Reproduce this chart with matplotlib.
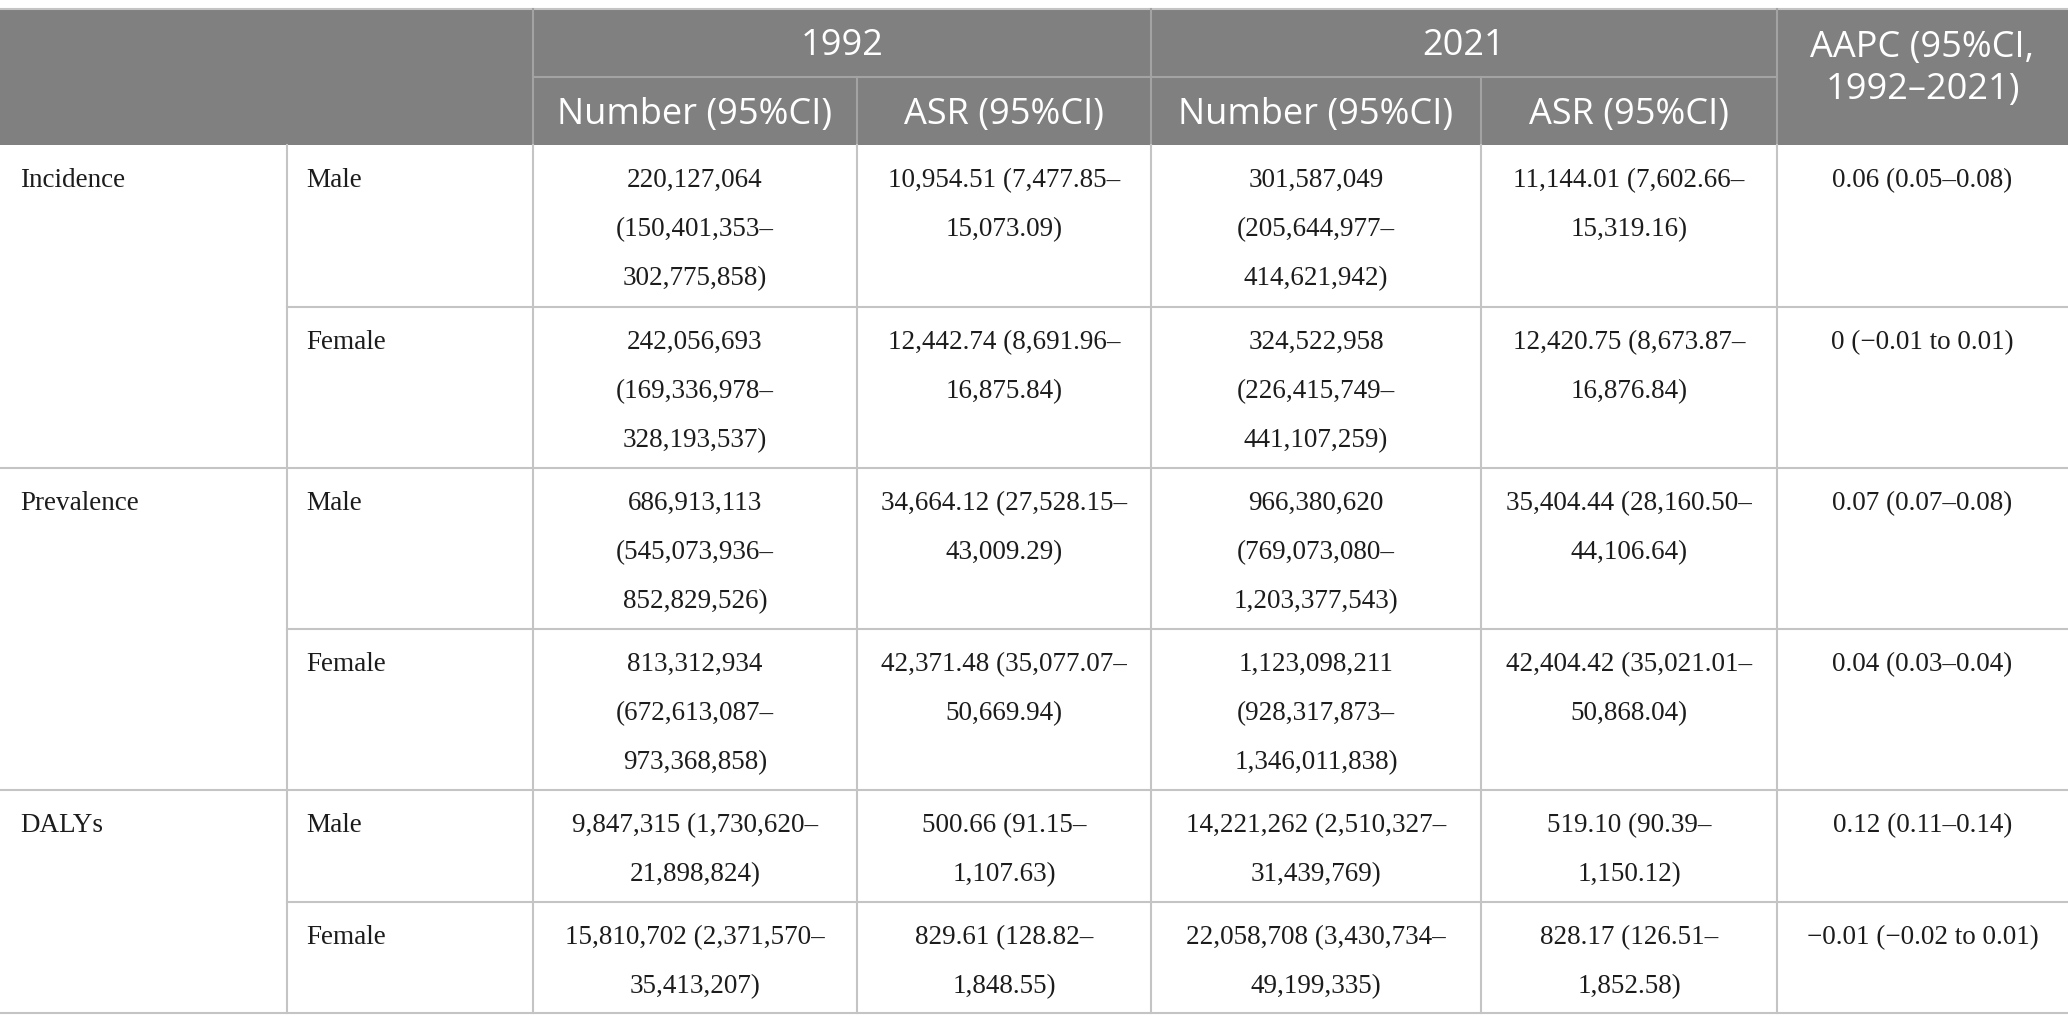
#!/usr/bin/env python3

import matplotlib
matplotlib.use('Agg')
import matplotlib.pyplot as plt  # noqa
from matplotlib.font_manager import FontProperties  # noqa
from matplotlib.patches import Rectangle  # noqa


# table content
MEASURES = ['Incidence', 'Prevalence', 'DALYs']
SEXES = ['Male', 'Female']
YEARS = ['1992', '2021']
SUB_HEADERS = ['Number (95%CI)', 'ASR (95%CI)']
AAPC_HEADER = ['AAPC (95%CI,', '1992\u20132021)']

NUMBER_1992 = [
    '220,127,064 (150,401,353\u2013302,775,858)',
    '242,056,693 (169,336,978\u2013328,193,537)',
    '686,913,113 (545,073,936\u2013852,829,526)',
    '813,312,934 (672,613,087\u2013973,368,858)',
    '9,847,315 (1,730,620\u201321,898,824)',
    '15,810,702 (2,371,570\u201335,413,207)',
]
ASR_1992 = [
    '10,954.51 (7,477.85\u201315,073.09)',
    '12,442.74 (8,691.96\u201316,875.84)',
    '34,664.12 (27,528.15\u201343,009.29)',
    '42,371.48 (35,077.07\u201350,669.94)',
    '500.66 (91.15\u20131,107.63)',
    '829.61 (128.82\u20131,848.55)',
]
NUMBER_2021 = [
    '301,587,049 (205,644,977\u2013414,621,942)',
    '324,522,958 (226,415,749\u2013441,107,259)',
    '966,380,620 (769,073,080\u20131,203,377,543)',
    '1,123,098,211 (928,317,873\u20131,346,011,838)',
    '14,221,262 (2,510,327\u201331,439,769)',
    '22,058,708 (3,430,734\u201349,199,335)',
]
ASR_2021 = [
    '11,144.01 (7,602.66\u201315,319.16)',
    '12,420.75 (8,673.87\u201316,876.84)',
    '35,404.44 (28,160.50\u201344,106.64)',
    '42,404.42 (35,021.01\u201350,868.04)',
    '519.10 (90.39\u20131,150.12)',
    '828.17 (126.51\u20131,852.58)',
]
AAPC = [
    '0.06 (0.05\u20130.08)',
    '0 (\u22120.01 to 0.01)',
    '0.07 (0.07\u20130.08)',
    '0.04 (0.03\u20130.04)',
    '0.12 (0.11\u20130.14)',
    '\u22120.01 (\u22120.02 to 0.01)',
]

# layout (pixels)
W, H = 2068, 1032
COL_X = [0, 287, 533, 857, 1151, 1481, 1777, 2068]
HEAD_Y = [9, 77, 145]
ROW_Y = [145, 307, 468, 629, 790, 902, 1013]
PAD = 20
LINE_STEP = 49

COLOR_HEAD = '#7f807f'
COLOR_HEAD_LINE = '#a3a3a3'
COLOR_GRID = '#c4c4c4'
COLOR_TEXT = '#1c1c1c'

HEAD_FONT = FontProperties(family='Open Sans', size=26)
BODY_FONT = FontProperties(family='Liberation Serif', size=19.5)


def wrap(text, width, renderer):
    # split at spaces and after dashes, then fill lines greedily
    tokens = []
    for part in text.split(' '):
        sub = part.split('\u2013')
        for i, s in enumerate(sub):
            tokens.append((s + ('\u2013' if i < len(sub) - 1 else ''),
                           i == 0))
    lines = []
    cur = ''
    for tok, spaced in tokens:
        cand = tok if not cur else cur + (' ' if spaced else '') + tok
        w, _, _ = renderer.get_text_width_height_descent(cand, BODY_FONT, False)
        if cur and w > width:
            lines.append(cur)
            cur = tok
        else:
            cur = cand
    lines.append(cur)
    return lines


fig = plt.figure(figsize=(W / 100, H / 100), dpi=100)
ax = fig.add_axes([0, 0, 1, 1])
ax.set_xlim(0, W)
ax.set_ylim(H, 0)
ax.axis('off')
renderer = fig.canvas.get_renderer()

# header background
ax.add_patch(Rectangle((0, HEAD_Y[0]), W, HEAD_Y[2] - HEAD_Y[0],
                       facecolor=COLOR_HEAD, edgecolor='none'))
ax.plot([0, W], [HEAD_Y[0], HEAD_Y[0]], color=COLOR_GRID, lw=1.5)
ax.plot([COL_X[2], COL_X[6]], [HEAD_Y[1], HEAD_Y[1]], color=COLOR_HEAD_LINE, lw=1.5)
for x in (COL_X[2], COL_X[4], COL_X[6]):
    ax.plot([x, x], [HEAD_Y[0], HEAD_Y[2]], color=COLOR_HEAD_LINE, lw=1.5)
for x in (COL_X[3], COL_X[5]):
    ax.plot([x, x], [HEAD_Y[1], HEAD_Y[2]], color=COLOR_HEAD_LINE, lw=1.5)

# header texts
for i, year in enumerate(YEARS):
    x0, x1 = COL_X[2 + 2 * i], COL_X[4 + 2 * i]
    ax.text((x0 + x1) / 2, 55, year, color='white', ha='center',
            va='baseline', fontproperties=HEAD_FONT)
    for j, sub in enumerate(SUB_HEADERS):
        c = 2 + 2 * i + j
        ax.text((COL_X[c] + COL_X[c + 1]) / 2, 124, sub, color='white',
                ha='center', va='baseline', fontproperties=HEAD_FONT)
for k, line in enumerate(AAPC_HEADER):
    ax.text((COL_X[6] + COL_X[7]) / 2, 57 + 42 * k, line, color='white',
            ha='center', va='baseline', fontproperties=HEAD_FONT)

# body grid
for x in COL_X[1:-1]:
    ax.plot([x, x], [ROW_Y[0], ROW_Y[-1]], color=COLOR_GRID, lw=1.5)
for r, y in enumerate(ROW_Y[1:], start=1):
    x0 = 0 if r % 2 == 0 else COL_X[1]
    ax.plot([x0, W], [y, y], color=COLOR_GRID, lw=1.5)

# body texts
columns = [NUMBER_1992, ASR_1992, NUMBER_2021, ASR_2021, AAPC]
for r in range(len(ROW_Y) - 1):
    top = ROW_Y[r]
    base = top + 42
    if r % 2 == 0:
        ax.text(COL_X[0] + 20, base, MEASURES[r // 2], color=COLOR_TEXT,
                ha='left', va='baseline', fontproperties=BODY_FONT)
    ax.text(COL_X[1] + 19, base, SEXES[r % 2], color=COLOR_TEXT,
            ha='left', va='baseline', fontproperties=BODY_FONT)
    for c, values in enumerate(columns):
        x0, x1 = COL_X[2 + c], COL_X[3 + c]
        lines = wrap(values[r], x1 - x0 - 2 * PAD, renderer)
        for k, line in enumerate(lines):
            ax.text((x0 + x1) / 2, base + k * LINE_STEP, line, color=COLOR_TEXT,
                    ha='center', va='baseline', fontproperties=BODY_FONT)

fig.savefig('out.png', dpi=100)
plt.close(fig)
